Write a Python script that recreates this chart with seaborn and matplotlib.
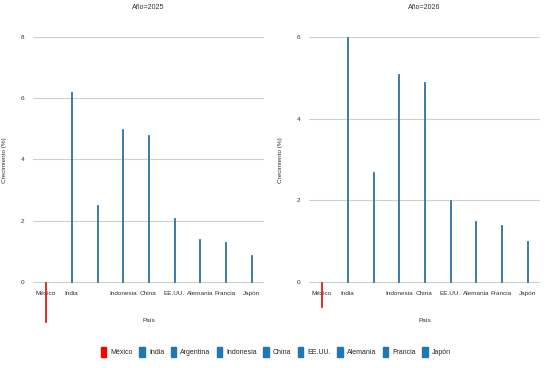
import matplotlib
matplotlib.use('Agg')
import matplotlib.pyplot as plt
import seaborn as sns
import pandas as pd
from matplotlib.patches import Patch

paises = ['México', 'India', 'Argentina', 'Indonesia', 'China', 'EE.UU.', 'Alemania', 'Francia', 'Japón']
crec_2025 = [-1.3, 6.2, 2.5, 5.0, 4.8, 2.1, 1.4, 1.3, 0.9]
crec_2026 = [-0.6, 6.0, 2.7, 5.1, 4.9, 2.0, 1.5, 1.4, 1.0]
colores = {p: '#1f77b4' for p in paises}
colores['México'] = '#ff0000'

df = pd.DataFrame({
    'País': paises * 2,
    'Crecimiento (%)': crec_2025 + crec_2026,
    'Año': [2025] * len(paises) + [2026] * len(paises),
})

sns.set_style('white')
plt.rcParams['font.family'] = ['Liberation Sans', 'DejaVu Sans']
fs = 4.6
txt = '#333333'

fig = plt.figure(figsize=(5.52, 3.68), dpi=100)
axes = [fig.add_axes([33/552, 0.228, 231/552, 0.672]),
        fig.add_axes([309/552, 0.228, 231/552, 0.672])]
limites = {2025: (-0.065, 8, [0, 2, 4, 6, 8]), 2026: (-0.05, 6, [0, 2, 4, 6])}

for ax, anio in zip(axes, [2025, 2026]):
    sub = df[df['Año'] == anio]
    sns.barplot(data=sub, x='País', y='Crecimiento (%)', hue='País', palette=colores,
                order=paises, hue_order=paises, dodge=False, width=0.05, legend=False,
                linewidth=0.6, ax=ax)
    for p in ax.patches:
        p.set_clip_on(False)
        p.set_edgecolor(p.get_facecolor())
    lo, hi, ticks = limites[anio]
    ax.set_ylim(lo, hi)
    ax.set_xlim(-0.5, len(paises) - 0.5)
    ax.set_yticks(ticks)
    ax.set_yticklabels([str(t) for t in ticks], fontsize=fs, color=txt)
    ax.set_xticks(range(len(paises)))
    ax.set_xticklabels(['' if p == 'Argentina' else p for p in paises], fontsize=fs, color=txt)
    ax.tick_params(axis='x', length=0, pad=5)
    ax.tick_params(axis='y', length=0, pad=6)
    ax.grid(axis='y', color='#d0d0d0', linewidth=0.8)
    ax.set_axisbelow(True)
    for s in ax.spines.values():
        s.set_visible(False)
    ax.set_title(f'Año={anio}', fontsize=fs + 0.4, color=txt, pad=20)
    ax.set_xlabel('País', fontsize=fs, color=txt, labelpad=16)
    ax.set_ylabel('Crecimiento (%)', fontsize=fs, color=txt, labelpad=10)

handles = [Patch(color=colores[p], label=p) for p in paises]
fig.legend(handles=handles, loc='center', bbox_to_anchor=(0.5, 0.043), ncol=len(paises),
           frameon=False, fontsize=fs + 0.4, handlelength=0.8, handleheight=1.8,
           handletextpad=0.6, columnspacing=0.9)

fig.savefig('out.png', dpi=100)
